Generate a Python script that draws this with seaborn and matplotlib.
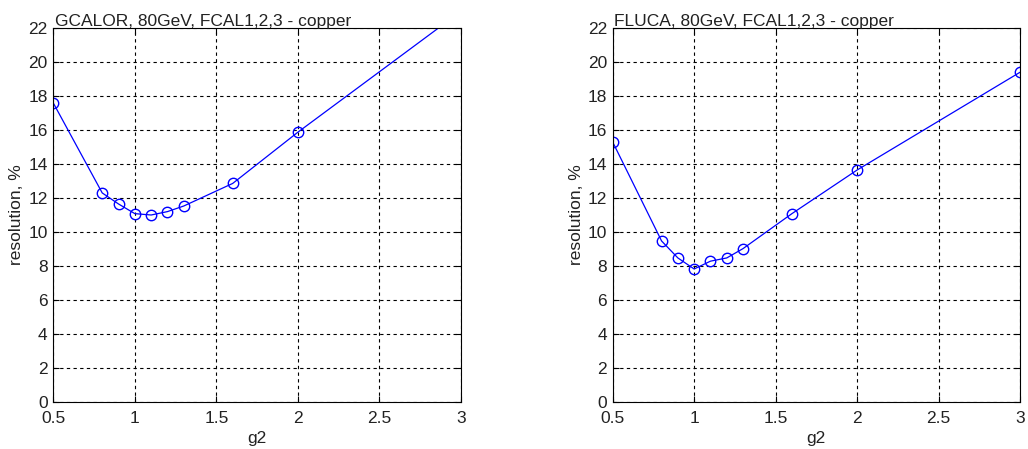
import matplotlib
matplotlib.use("Agg")
import matplotlib.pyplot as plt
import seaborn as sns
import pandas as pd
import numpy as np

g2_left = [0.5, 0.8, 0.9, 1.0, 1.1, 1.2, 1.3, 1.6, 2.0, 3.0]
res_left = [17.6, 12.3, 11.65, 11.08, 11.0, 11.2, 11.53, 12.86, 15.88, 23.0]
g2_right = [0.5, 0.8, 0.9, 1.0, 1.1, 1.2, 1.3, 1.6, 2.0, 3.0]
res_right = [15.3, 9.47, 8.47, 7.82, 8.28, 8.47, 9.02, 11.08, 13.65, 19.41]
titles = ["GCALOR, 80GeV, FCAL1,2,3 - copper", "FLUCA, 80GeV, FCAL1,2,3 - copper"]
xticks = [0.5, 1, 1.5, 2, 2.5, 3]
xticklabels = ["0.5", "1", "1.5", "2", "2.5", "3"]
yticks = list(range(0, 23, 2))

sns.set_style("white")
plt.rcParams['font.family'] = ['Liberation Sans', 'DejaVu Sans']

fig = plt.figure(figsize=(10.28, 4.49), dpi=100)
W, H = 1028, 449
axes_px = [(53.3, 28.3, 461, 401.7), (612.7, 28.3, 1020, 401.7)]
fs = 12.5
txt = "#222222"

for i, (xs, ys) in enumerate([(g2_left, res_left), (g2_right, res_right)]):
    l, t, r, b = axes_px[i]
    ax = fig.add_axes([l / W, 1 - b / H, (r - l) / W, (b - t) / H])
    df = pd.DataFrame({"g2": xs, "res": ys})
    sns.lineplot(data=df, x="g2", y="res", ax=ax, color="#0000ff", linewidth=0.9,
                 marker="o", markersize=7.5, markerfacecolor="none",
                 markeredgecolor="#0000ff", markeredgewidth=1.0, sort=False)
    ax.set_xlim(0.5, 3)
    ax.set_ylim(0, 22)
    ax.set_xticks(xticks)
    ax.set_xticklabels(xticklabels)
    ax.set_yticks(yticks)
    ax.grid(True, color="black", linestyle=(0, (3, 3)), linewidth=0.8)
    ax.set_axisbelow(True)
    for s in ax.spines.values():
        s.set_color("black")
        s.set_linewidth(0.8)
        s.set_visible(True)
    ax.tick_params(direction="in", length=4, width=0.8, labelsize=fs, colors="black",
                   labelcolor=txt, top=True, right=True, bottom=True, left=True)
    ax.tick_params(axis="x", pad=7)
    ax.tick_params(axis="y", pad=4)
    ax.set_xlabel("g2", fontsize=fs, labelpad=3, color=txt)
    ax.set_ylabel("resolution, %", fontsize=fs, labelpad=3, color=txt)
    ax.set_title(titles[i], loc="left", fontsize=fs, pad=2, x=0.003, color=txt)

fig.savefig("out.png", dpi=100, facecolor="white")
